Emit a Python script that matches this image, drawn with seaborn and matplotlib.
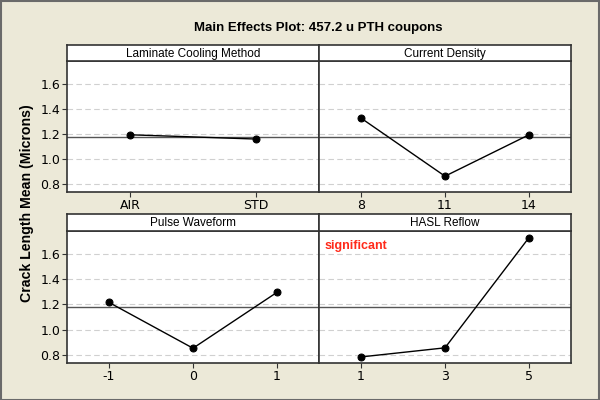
import matplotlib
matplotlib.use("Agg")
import matplotlib.pyplot as plt
import seaborn as sns
import pandas as pd
from matplotlib.patches import Rectangle

# ---- data ----
factors = ["Laminate Cooling Method", "Current Density", "Pulse Waveform", "HASL Reflow"]
laminate_levels = ["AIR", "STD"]
laminate_means = [1.192, 1.158]
current_levels = ["8", "11", "14"]
current_means = [1.325, 0.862, 1.192]
pulse_levels = ["-1", "0", "1"]
pulse_means = [1.215, 0.853, 1.295]
hasl_levels = ["1", "3", "5"]
hasl_means = [0.784, 0.856, 1.728]
grand_mean = 1.176
y_ticks = [0.8, 1.0, 1.2, 1.4, 1.6]

levels = [laminate_levels, current_levels, pulse_levels, hasl_levels]
means = [laminate_means, current_means, pulse_means, hasl_means]

sns.set_theme(style="white")
plt.rcParams['font.family'] = ['Liberation Sans', 'DejaVu Sans']

bg = "#ECE9D8"
fig = plt.figure(figsize=(6, 4), dpi=100, facecolor=bg)
fig.patches.append(Rectangle((0.001, 0.001), 0.997, 0.996, transform=fig.transFigure,
                             fill=False, edgecolor="#6a6a6a", linewidth=1.5))

W, H = 600, 400
left, mid, right = 67, 319, 571
rows = [(45, 61, 192), (214, 231, 363)]  # strip top, axes top, axes bottom (px)
edge = "#333333"

for i, (fac, lv, mv) in enumerate(zip(factors, levels, means)):
    r, c = divmod(i, 2)
    x0 = left if c == 0 else mid
    x1 = mid if c == 0 else right
    st, at, ab = rows[r]
    ax = fig.add_axes([x0 / W, 1 - ab / H, (x1 - x0) / W, (ab - at) / H])
    ax.set_facecolor("white")
    df = pd.DataFrame({"level": lv, "mean": mv})
    ax.axhline(grand_mean, color="#555555", lw=1.0, zorder=1)
    for t in y_ticks:
        ax.axhline(t, color="#d0d0d0", lw=0.8, ls=(0, (5, 3)), zorder=0)
    sns.lineplot(data=df, x="level", y="mean", ax=ax, color="black", lw=1.0,
                 marker="o", markersize=5, markeredgecolor="black", sort=False, zorder=3)
    ax.set_xlim(-0.5, len(lv) - 0.5)
    ax.set_ylim(0.736, 1.78)
    ax.set_yticks(y_ticks)
    ax.set_xlabel("")
    ax.set_ylabel("")
    ax.tick_params(axis="both", which="both", direction="out", length=3.5, width=0.8,
                   color=edge, labelsize=9, labelcolor="black", pad=1.5,
                   bottom=True, left=(c == 0))
    for lab in ax.get_xticklabels() + ax.get_yticklabels():
        lab.set_fontfamily("DejaVu Sans")
    if c == 1:
        ax.set_yticklabels([])
    else:
        ax.set_yticklabels([f"{t:.1f}" for t in y_ticks], fontfamily="DejaVu Sans")
    ax.set_xticks(range(len(lv)))
    ax.set_xticklabels(lv, fontfamily="DejaVu Sans")
    for s in ax.spines.values():
        s.set_color(edge)
        s.set_linewidth(1.2)
    # strip
    sax = fig.add_axes([x0 / W, 1 - at / H, (x1 - x0) / W, (at - st) / H])
    sax.set_facecolor("white")
    sax.set_xticks([])
    sax.set_yticks([])
    for s in sax.spines.values():
        s.set_color(edge)
        s.set_linewidth(1.2)
    sax.text(0.5, 0.45, fac, ha="center", va="center", fontsize=8.5, color="black",
             transform=sax.transAxes)
    if fac == "HASL Reflow":
        ax.text(0.02, 0.93, "significant", color="#FF2A1A", fontweight="bold",
                fontsize=9, ha="left", va="top", transform=ax.transAxes)

fig.text(318 / W, 1 - 28 / H, "Main Effects Plot: 457.2 u PTH coupons", ha="center",
         va="center", fontsize=9.5, fontweight="bold", color="black")
fig.text(27 / W, 1 - 203 / H, "Crack Length Mean (Microns)", ha="center", va="center",
         rotation=90, fontsize=10.2, fontweight="bold", color="black")

fig.savefig("out.png", dpi=100, facecolor=bg)
